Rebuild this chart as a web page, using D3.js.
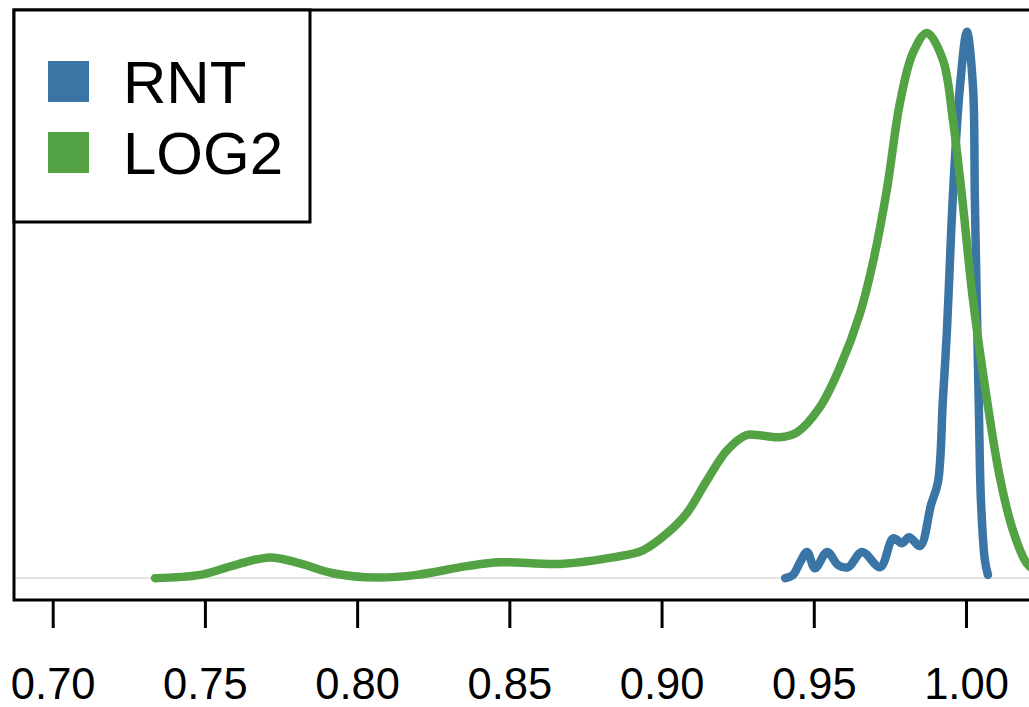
<!DOCTYPE html>
<html>
<head>
<meta charset="utf-8">
<script src="https://cdn.jsdelivr.net/npm/d3@7"></script>
<style>
  body { margin: 0; background: #fff; }
  svg { display: block; font-family: "Liberation Sans", Arial, Helvetica, sans-serif; }
</style>
</head>
<body>
<div id="chart"></div>
<script>
// density curves (y scaled so the highest peak is 1)
const log2X = [0.7336, 0.7484, 0.7599, 0.7714, 0.7812, 0.7921, 0.8065, 0.8197, 0.8361, 0.8469,
  0.8666, 0.8840, 0.8939, 0.9018, 0.9083, 0.9149, 0.9215, 0.9280, 0.9313, 0.9389,
  0.9445, 0.9520, 0.9586, 0.9652, 0.9694, 0.9740, 0.9783, 0.9826, 0.9872, 0.9924,
  0.9957, 0.9987, 1.0023, 1.0069, 1.0111, 1.0154, 1.0200, 1.0243, 1.0309];
const log2Y = [0.000, 0.006, 0.024, 0.038, 0.027, 0.009, 0.001, 0.006, 0.022, 0.029,
  0.026, 0.038, 0.051, 0.082, 0.119, 0.179, 0.234, 0.262, 0.262, 0.258,
  0.267, 0.313, 0.386, 0.485, 0.577, 0.711, 0.870, 0.962, 0.998, 0.949,
  0.839, 0.698, 0.509, 0.326, 0.185, 0.088, 0.027, 0.009, 0.002];

const rntX = [0.9406, 0.9432, 0.9455, 0.9478, 0.9504, 0.9544, 0.9580, 0.9613, 0.9659, 0.9718,
  0.9761, 0.9790, 0.9813, 0.9849, 0.9885, 0.9908, 0.9924, 0.9937, 0.9947, 0.9957,
  0.9980, 1.0003, 1.0023, 1.0029, 1.0036, 1.0043, 1.0049, 1.0062, 1.0072];
const rntY = [0.000, 0.006, 0.029, 0.048, 0.018, 0.048, 0.024, 0.020, 0.048, 0.020,
  0.073, 0.064, 0.075, 0.059, 0.134, 0.176, 0.326, 0.449, 0.577, 0.701,
  0.899, 1.000, 0.899, 0.698, 0.485, 0.289, 0.143, 0.033, 0.006];

const ticks = [0.70, 0.75, 0.80, 0.85, 0.90, 0.95, 1.00];
const seriesNames = ["RNT", "LOG2"];
const seriesColors = ["#3a75a6", "#53a345"];

const width = 1029, height = 707;
const boxL = 14, boxT = 10, boxB = 600, boxR = 1070;

const svg = d3.select("#chart").append("svg")
    .attr("width", width)
    .attr("height", height);

const x = d3.scaleLinear().domain([0.70, 1.00]).range([52.7, 966]);
const y = d3.scaleLinear().domain([-0.04, 1.04]).range([boxB, boxT]);

// zero line
svg.append("line")
    .attr("x1", boxL).attr("x2", boxR)
    .attr("y1", y(0)).attr("y2", y(0))
    .attr("stroke", "#d3d3d3").attr("stroke-width", 1.3);

const line = d3.line()
    .x(d => x(d[0]))
    .y(d => y(d[1]))
    .curve(d3.curveCatmullRom.alpha(0.5));

const series = [d3.zip(rntX, rntY), d3.zip(log2X, log2Y)];

svg.selectAll("path.dens")
    .data(series)
  .join("path")
    .attr("class", "dens")
    .attr("d", line)
    .attr("fill", "none")
    .attr("stroke", (_, i) => seriesColors[i])
    .attr("stroke-width", 8.5)
    .attr("stroke-linecap", "round")
    .attr("stroke-linejoin", "round");

// box
svg.append("rect")
    .attr("x", boxL).attr("y", boxT)
    .attr("width", boxR - boxL).attr("height", boxB - boxT)
    .attr("fill", "none").attr("stroke", "#000").attr("stroke-width", 3);

// x axis
const axis = svg.append("g")
    .attr("transform", `translate(0,${boxB})`)
    .call(d3.axisBottom(x).tickValues(ticks).tickFormat(d3.format(".2f"))
        .tickSize(28).tickPadding(40));
axis.select(".domain").remove();
axis.selectAll(".tick line").attr("stroke", "#000").attr("stroke-width", 3);
axis.selectAll(".tick text")
    .attr("font-size", 43.5)
    .attr("fill", "#000")
    .attr("font-family", "Liberation Sans, Arial, sans-serif");

// legend
const lg = svg.append("g");
lg.append("rect")
    .attr("x", boxL).attr("y", boxT)
    .attr("width", 296).attr("height", 212)
    .attr("fill", "#fff").attr("stroke", "#000").attr("stroke-width", 3);

const item = lg.selectAll("g.item")
    .data(seriesNames)
  .join("g")
    .attr("class", "item")
    .attr("transform", (_, i) => `translate(0,${i * 71})`);

item.append("rect")
    .attr("x", 48).attr("y", 61)
    .attr("width", 41).attr("height", 41)
    .attr("fill", (_, i) => seriesColors[i]);

item.append("text")
    .attr("x", 123).attr("y", 103)
    .attr("font-size", 60)
    .attr("fill", "#000")
    .text(d => d);
</script>
</body>
</html>
